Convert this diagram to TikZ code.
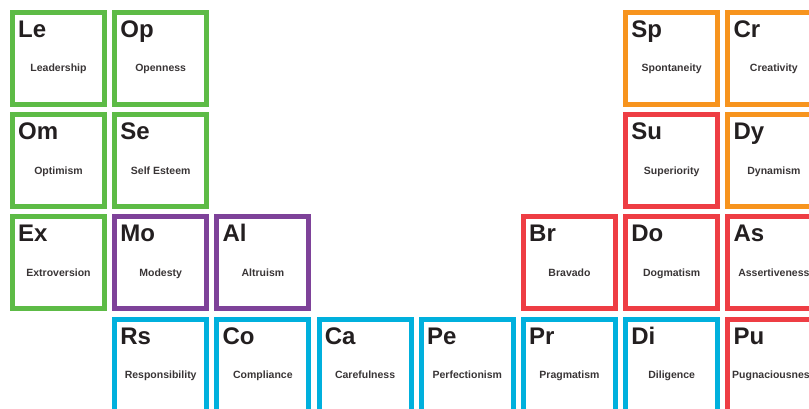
\documentclass[tikz,border=0pt]{standalone}
\usepackage{fontspec}
\setmainfont{Liberation Sans}
\definecolor{TraitGreen}{HTML}{5DBB46}
\definecolor{TraitPurple}{HTML}{7E4299}
\definecolor{TraitCyan}{HTML}{00B0DD}
\definecolor{TraitRed}{HTML}{EE3D44}
\definecolor{TraitOrange}{HTML}{F7941E}
\definecolor{InkBlack}{HTML}{231F20}
\usetikzlibrary{positioning,calc}

\begin{document}
\begin{tikzpicture}[x=1pt,y=-1pt,
        cell/.style={draw,line width=5pt,minimum size=92pt,inner sep=0pt},
        sym/.style={anchor=base west,inner sep=0pt,text=InkBlack,
                    font=\fontsize{24}{24}\selectfont\bfseries},
        trait/.style={anchor=base,inner sep=0pt,text=InkBlack!90,
                      font=\fontsize{10.5}{12}\selectfont\bfseries}]

        \path[use as bounding box,clip] (0,0) rectangle (809,409);

        % column / row / symbol / trait / colour
        \foreach \c/\r/\s/\n/\col in {
            1/1/Le/Leadership/TraitGreen,     2/1/Op/Openness/TraitGreen,
            7/1/Sp/Spontaneity/TraitOrange,   8/1/Cr/Creativity/TraitOrange,
            1/2/Om/Optimism/TraitGreen,       2/2/Se/Self Esteem/TraitGreen,
            7/2/Su/Superiority/TraitRed,      8/2/Dy/Dynamism/TraitOrange,
            1/3/Ex/Extroversion/TraitGreen,   2/3/Mo/Modesty/TraitPurple,
            3/3/Al/Altruism/TraitPurple,      6/3/Br/Bravado/TraitRed,
            7/3/Do/Dogmatism/TraitRed,        8/3/As/Assertiveness/TraitRed,
            2/4/Rs/Responsibility/TraitCyan,  3/4/Co/Compliance/TraitCyan,
            4/4/Ca/Carefulness/TraitCyan,     5/4/Pe/Perfectionism/TraitCyan,
            6/4/Pr/Pragmatism/TraitCyan,      7/4/Di/Diligence/TraitCyan,
            8/4/Pu/Pugnaciousness/TraitRed}{
          \node[cell,draw=\col] (\s) at ({58.5+102.2*(\c-1)},{58.5+102.2*(\r-1)}) {};
          \node[sym]   (\s-sym)  at ([shift={(8,27.5)}]\s.north west) {\s};
          \node[trait] (\s-name) at ([shift={(0,13.5)}]\s.center) {\n};
        }
      \end{tikzpicture}
\end{document}
